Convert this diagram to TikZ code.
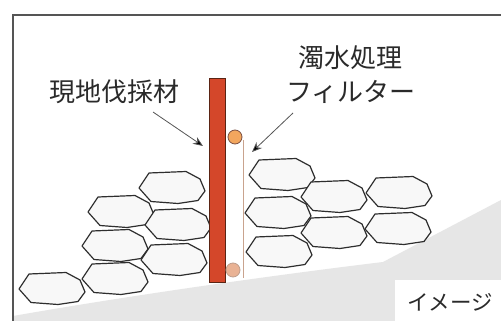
\documentclass[tikz,border=0pt]{standalone}
\usepackage{fontspec}
\newfontfamily\jpfont{Noto Sans CJK JP}
\usetikzlibrary{arrows.meta}
\definecolor{framegray}{HTML}{555555}
\definecolor{groundgray}{HTML}{E6E6E6}
\definecolor{stoneline}{HTML}{2E2E2E}
\definecolor{stonefill}{HTML}{F8F8F8}
\definecolor{barred}{HTML}{D4472A}
\definecolor{bardark}{HTML}{5A2414}
\definecolor{ballorange}{HTML}{F2A65E}
\definecolor{ballpeach}{HTML}{E9B294}
\definecolor{textgray}{HTML}{2A2A2A}
\tikzset{
  label text/.style={font=\jpfont\fontsize{26}{29}\selectfont, text=textgray, inner sep=0pt},
  note text/.style={font=\jpfont\fontsize{21.5}{24}\selectfont, text=textgray, inner sep=0pt},
  pointer/.style={draw=framegray, line width=0.8pt, -{Stealth[length=10pt,width=8pt,fill=black]}},
  pics/stone/.style={code={
    \draw[stoneline, fill=stonefill, line width=1.2pt, line join=round]
      (-33,1) -- (-23,-14) -- (14,-15.5) -- (28,-8) -- (33,4) -- (26,13.5) -- (6,16.5) -- (-21,14.5) -- cycle;
  }},
}
\begin{document}
\begin{tikzpicture}[x=1pt, y=-1pt]
  \useasboundingbox (0,0) rectangle (501,321);
  \fill[white] (0,0) rectangle (501,321);
  % sloping ground
  \fill[groundgray] (13,321) -- (13,316) .. controls (150,292) and (300,272) .. (383,262)
     -- (501,200) -- (501,321) -- cycle;
  % frame (top and left only)
  \draw[framegray, line width=1.4pt] (13,321) -- (13,15) -- (501,15);
  % left stone pile
  \foreach \cx/\cy in {172/187, 121/211, 178/224, 115/245, 174/259, 115/278, 52/288}
    \pic at (\cx,\cy) {stone};
  % right stone pile
  \foreach \cx/\cy in {282/174, 334/196, 399/192, 278/212, 334/232, 398/228, 279/251}
    \pic at (\cx,\cy) {stone};
  % filter sheet
  \draw[draw=ballpeach!70!gray, line width=0.7pt] (243,140) -- (243,278);
  % timber post
  \node[draw=bardark, fill=barred, line width=1pt, minimum width=16pt, minimum height=204pt,
        inner sep=0pt, anchor=north west] (post) at (209,78) {};
  % filter balls
  \node[circle, draw=bardark!80, fill=ballorange, line width=0.8pt, minimum size=14pt, inner sep=0pt] (balltop) at (235,137) {};
  \node[circle, draw=ballpeach!60!gray, fill=ballpeach, line width=0.8pt, minimum size=14pt, inner sep=0pt] (ballbot) at (233,270) {};
  % caption box in the corner
  \fill[white] (395,280) rectangle (501,321);
  \node[note text] (note) at (450,302) {イメージ};
  % labels
  \node[label text] (timber) at (114,92) {現地伐採材};
  \node[label text] (filt1) at (350,58) {濁水処理};
  \node[label text] (filt2) at (351,92) {フィルター};
  % pointers
  \coordinate (tstart) at (153,112);
  \coordinate (tend) at (203,146);
  \coordinate (fstart) at (293,113);
  \coordinate (fend) at (252,152);
  \draw[pointer] (tstart) -- (tend);
  \draw[pointer] (fstart) -- (fend);
\end{tikzpicture}
\end{document}
